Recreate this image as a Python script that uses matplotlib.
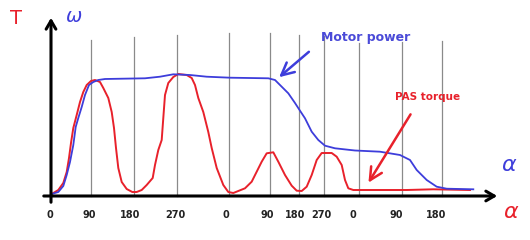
import matplotlib
matplotlib.use("Agg")
import matplotlib.pyplot as plt

# Tick labels (crank angle, degrees) and their positions along the axis
tick_labels = ["0", "90", "180", "270", "0", "90", "180", "270", "0", "90", "180"]
tick_pos = [50, 89, 130, 175, 226, 267, 295, 321, 353, 396, 436]
# Grid line positions and heights
grid_pos = [91, 134, 177, 229, 270, 299, 324, 359, 402, 442]
grid_top = [156, 159, 161, 163, 163, 161, 160, 153, 154, 155]

# Motor power curve (x, height above axis)
motor_x = [51.7, 58.3, 63.3, 66.7, 70, 73.3, 75.7, 78.3, 81.7, 85, 89, 93.3, 98.3,
           105, 145, 160, 173.3, 190, 206.7, 230, 268.3, 275, 281.7, 288.3, 295,
           300, 305, 311.7, 318.3, 325, 335, 355, 380, 400, 410, 416.7, 426.7,
           436.7, 446.7, 473.3]
motor_y = [2, 4, 10, 21, 34, 51, 69, 78, 89, 101, 111, 114, 116,
           117, 117.7, 119.3, 121.7, 121, 119.3, 118.3, 117.7, 116, 109.3, 102.7, 93,
           85.3, 77.7, 64.3, 56, 50.3, 47.7, 45.5, 44.3, 41, 36, 26, 16,
           9.3, 7.3, 6.7]

# PAS torque curve
pas_x = [51.7, 58.3, 63.3, 66.7, 69, 71, 73.3, 76.7, 80, 83.3, 86.7, 91, 95, 100,
         103.3, 108.3, 111.7, 114, 116, 118.3, 121.7, 126.7, 132.3, 136.7, 141.7,
         146.7, 152.7, 155, 158.3, 161.7, 163.3, 165, 168.3, 173.3, 178.3, 186.7,
         191.7, 195, 198.3, 203.3, 208.3, 211.7, 216.7, 223.3, 228.3, 233.3, 238.3,
         245, 251.7, 256.7, 261.7, 266.7, 273.3, 278.3, 285, 291.7, 296.7, 301.7,
         306.7, 311.7, 316.7, 321.7, 331.7, 336.7, 341.7, 345, 348.3, 353.3, 373.3,
         406.7, 433.3, 470]
pas_y = [2, 6, 13, 24, 38, 53, 68, 81, 94, 104, 111, 115, 116, 114,
         108, 98, 84, 68, 48, 28, 14, 7, 4, 4, 6,
         11, 18, 31, 46, 56, 78, 101, 113, 119, 122, 121,
         118, 111, 98, 84, 64, 48, 28, 11, 4, 3, 5,
         7.7, 14.3, 24.3, 34.3, 42.7, 43.7, 34.3, 21, 10.3, 5.3, 5,
         9.3, 21, 36, 43, 43, 39.3, 31, 16, 7.7, 6, 6,
         6, 6.7, 6]

fig = plt.figure(figsize=(5.3, 2.4), dpi=100)
ax = fig.add_axes([0, 0, 1, 1])
ax.set_xlim(0, 530)
ax.set_ylim(-44, 196)
ax.axis("off")

for gx, gt in zip(grid_pos, grid_top):
    ax.plot([gx, gx], [0, gt], color="#8a8a8a", lw=0.9, zorder=1)

ax.plot(motor_x, motor_y, color="#3d3ddb", lw=1.3, zorder=3, solid_joinstyle="round")
ax.plot(pas_x, pas_y, color="#e8212b", lw=1.4, zorder=2, solid_joinstyle="round")

# Axes with arrows
ax.annotate("", xy=(500, 0), xytext=(41, 0),
            arrowprops=dict(arrowstyle="->,head_length=0.6,head_width=0.35", lw=2.2, color="black"))
ax.annotate("", xy=(51, 181), xytext=(51, -9),
            arrowprops=dict(arrowstyle="->,head_length=0.6,head_width=0.35", lw=2.2, color="black"))

for p, t in zip(tick_pos, tick_labels):
    ax.text(p, -19, t, ha="center", va="center", fontsize=7, fontweight="bold", color="#222222")

ax.text(16, 177, "T", color="#e8212b", fontsize=14, ha="center", va="center")
ax.text(74, 180, "ω", color="#3d3ddb", fontsize=14, ha="center", va="center", style="italic")
ax.text(509, 31, "α", color="#3d3ddb", fontsize=16, ha="center", va="center", style="italic")
ax.text(511, -16, "α", color="#e8212b", fontsize=16, ha="center", va="center", style="italic")

ax.text(366, 159, "Motor power", color="#4a4ad8", fontsize=9, fontweight="bold", ha="center", va="center")
ax.annotate("", xy=(277, 117), xytext=(311, 146),
            arrowprops=dict(arrowstyle="->,head_length=0.9,head_width=0.45", lw=1.8, color="#3d3ddb"))
ax.text(428, 99, "PAS torque", color="#e8212b", fontsize=7.5, fontweight="bold", ha="center", va="center")
ax.annotate("", xy=(367, 11), xytext=(412, 84),
            arrowprops=dict(arrowstyle="->,head_length=0.9,head_width=0.45", lw=1.8, color="#e8212b"))

fig.savefig("out.png", dpi=100)
